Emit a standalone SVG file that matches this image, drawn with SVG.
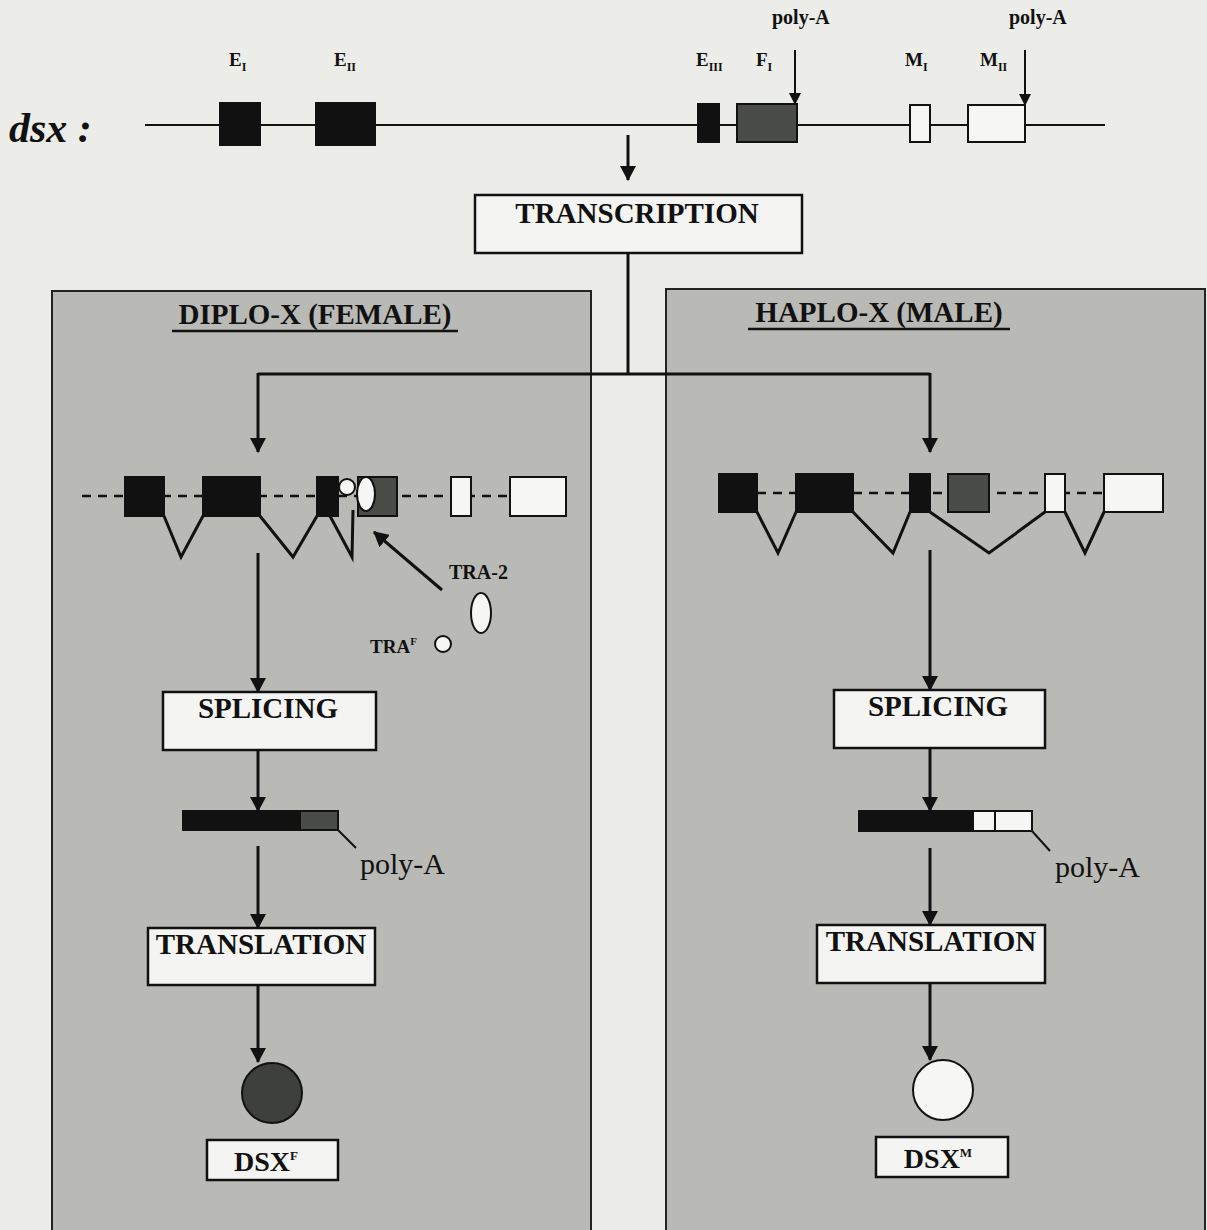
<svg xmlns="http://www.w3.org/2000/svg" width="1207" height="1230" viewBox="0 0 1207 1230">
<style>
.t{font-family:"Liberation Serif","Times New Roman",serif;font-weight:bold;fill:#111}
.big{font-size:29px}
.lab{font-size:19px}
.sub{font-size:12px}
.box{fill:#f4f4f2;stroke:#111;stroke-width:2.5}
.panel{fill:#b9b9b5;stroke:#222;stroke-width:2}
.blk{fill:#111;stroke:#111;stroke-width:2}
.gry{fill:#4a4c48;stroke:#111;stroke-width:2}
.wht{fill:#f6f6f4;stroke:#111;stroke-width:2}
.ln{stroke:#111;stroke-width:3;fill:none}
.thin{stroke:#111;stroke-width:2;fill:none}
.dash{stroke:#111;stroke-width:2.5;stroke-dasharray:9 7;fill:none}
.reg{font-family:"Liberation Serif","Times New Roman",serif;fill:#111;font-size:30px}
</style>
<defs>
<marker id="ah" markerUnits="userSpaceOnUse" markerWidth="16" markerHeight="16" refX="14" refY="8" orient="auto">
<path d="M0,0 L15,8 L0,16 Z" fill="#111"/>
</marker>
<marker id="ahs" markerUnits="userSpaceOnUse" markerWidth="12" markerHeight="12" refX="11" refY="6" orient="auto">
<path d="M0,0 L12,6 L0,12 Z" fill="#111"/>
</marker>
</defs>
<rect width="1207" height="1230" fill="#ecece8"/>

<g id="gene">
<text class="t" x="9" y="142" font-size="42" font-style="italic">dsx :</text>
<line x1="145" y1="125" x2="1105" y2="125" class="thin" stroke-width="2.5"/>
<rect x="220" y="103" width="40" height="42" class="blk"/>
<rect x="316" y="103" width="59" height="42" class="blk"/>
<rect x="698" y="104" width="21" height="38" class="blk"/>
<rect x="737" y="104" width="60" height="38" class="gry"/>
<rect x="910" y="105" width="20" height="37" class="wht"/>
<rect x="968" y="105" width="57" height="37" class="wht"/>
<text class="t lab" x="229" y="66">E<tspan class="sub" dy="5">I</tspan></text>
<text class="t lab" x="334" y="66">E<tspan class="sub" dy="5">II</tspan></text>
<text class="t lab" x="696" y="66">E<tspan class="sub" dy="5">III</tspan></text>
<text class="t lab" x="756" y="66">F<tspan class="sub" dy="5">I</tspan></text>
<text class="t lab" x="905" y="66">M<tspan class="sub" dy="5">I</tspan></text>
<text class="t lab" x="980" y="66">M<tspan class="sub" dy="5">II</tspan></text>
<text class="t" x="772" y="24" font-size="20">poly-A</text>
<text class="t" x="1009" y="24" font-size="20">poly-A</text>
</g>

<g id="transcription">
<rect x="475" y="195" width="327" height="58" class="box"/>
<text class="t big" x="637" y="223" text-anchor="middle">TRANSCRIPTION</text>
</g>

<g id="female-panel">
<rect x="52" y="291" width="539" height="945" class="panel"/>
<text class="t big" x="315" y="324" text-anchor="middle">DIPLO-X (FEMALE)</text>
<line x1="172" y1="331" x2="458" y2="331" stroke="#111" stroke-width="2.5"/>
</g>
<g id="male-panel">
<rect x="666" y="289" width="539" height="947" class="panel"/>
<text class="t big" x="879" y="322" text-anchor="middle">HAPLO-X (MALE)</text>
<line x1="748" y1="329" x2="1010" y2="329" stroke="#111" stroke-width="2.5"/>
</g>

<g id="female-premrna">
<line x1="82" y1="496" x2="560" y2="496" class="dash"/>
<rect x="125" y="477" width="39" height="39" class="blk"/>
<rect x="203" y="477" width="57" height="39" class="blk"/>
<rect x="317" y="477" width="21" height="39" class="blk"/>
<rect x="358" y="477" width="39" height="39" class="gry"/>
<rect x="451" y="477" width="20" height="39" class="wht"/>
<rect x="510" y="477" width="56" height="39" class="wht"/>
<circle cx="347" cy="487" r="8" class="wht"/>
<ellipse cx="366" cy="494" rx="9" ry="17" class="wht"/>
<polyline points="164,516 181,557 203,516" class="ln"/>
<polyline points="260,516 293,557 317,516" class="ln"/>
<polyline points="330,516 352,557 353,510" class="ln"/>
</g>

<g id="tra">
<text class="t" x="449" y="579" font-size="20">TRA-2</text>
<ellipse cx="481" cy="613" rx="10" ry="20" class="wht"/>
<text class="t" x="370" y="653" font-size="19">TRA<tspan font-size="11" dy="-8">F</tspan></text>
<circle cx="443" cy="644" r="8" class="wht"/>
</g>

<g id="male-premrna">
<line x1="757" y1="493" x2="1104" y2="493" class="dash"/>
<rect x="719" y="474" width="38" height="38" class="blk"/>
<rect x="796" y="474" width="57" height="38" class="blk"/>
<rect x="910" y="474" width="20" height="38" class="blk"/>
<rect x="948" y="474" width="41" height="38" class="gry"/>
<rect x="1045" y="474" width="20" height="38" class="wht"/>
<rect x="1104" y="474" width="59" height="38" class="wht"/>
<polyline points="757,512 778,553 796,512" class="ln"/>
<polyline points="853,512 893,553 910,512" class="ln"/>
<polyline points="930,512 989,553 1045,512" class="ln"/>
<polyline points="1065,512 1085,553 1104,512" class="ln"/>
</g>

<g id="female-splicing">
<rect x="163" y="692" width="213" height="58" class="box"/>
<text class="t big" x="268" y="718" text-anchor="middle">SPLICING</text>
</g>
<g id="male-splicing">
<rect x="834" y="690" width="211" height="58" class="box"/>
<text class="t big" x="938" y="716" text-anchor="middle">SPLICING</text>
</g>

<g id="female-mrna">
<rect x="183" y="811" width="40" height="19" class="blk" stroke="#555" stroke-width="1"/>
<rect x="223" y="811" width="56" height="19" class="blk" stroke="#555" stroke-width="1"/>
<rect x="279" y="811" width="21" height="19" class="blk" stroke="#555" stroke-width="1"/>
<rect x="300" y="811" width="38" height="19" class="gry" stroke-width="1.5"/>
<line x1="338" y1="830" x2="356" y2="848" class="thin"/>
<text class="reg" x="360" y="874">poly-A</text>
</g>
<g id="male-mrna">
<rect x="859" y="811" width="40" height="20" class="blk"/>
<rect x="899" y="811" width="56" height="20" class="blk"/>
<rect x="955" y="811" width="18" height="20" class="blk"/>
<rect x="973" y="811" width="22" height="20" class="wht"/>
<rect x="995" y="811" width="37" height="20" class="wht"/>
<line x1="1032" y1="831" x2="1050" y2="851" class="thin"/>
<text class="reg" x="1055" y="877">poly-A</text>
</g>

<g id="female-translation">
<rect x="148" y="928" width="227" height="57" class="box"/>
<text class="t big" x="261" y="954" text-anchor="middle">TRANSLATION</text>
</g>
<g id="male-translation">
<rect x="817" y="925" width="228" height="58" class="box"/>
<text class="t big" x="931" y="951" text-anchor="middle">TRANSLATION</text>
</g>

<g id="female-protein">
<circle cx="272" cy="1093" r="30" fill="#3e403c" stroke="#111" stroke-width="2"/>
<rect x="207" y="1140" width="131" height="40" class="box"/>
<text class="t" x="266" y="1171" font-size="28" text-anchor="middle">DSX<tspan font-size="13" dy="-11">F</tspan></text>
</g>
<g id="male-protein">
<circle cx="943" cy="1090" r="30" class="wht"/>
<rect x="876" y="1137" width="132" height="40" class="box"/>
<text class="t" x="938" y="1168" font-size="28" text-anchor="middle">DSX<tspan font-size="13" dy="-11">M</tspan></text>
</g>

<g id="connectors">
<line x1="795" y1="50" x2="795" y2="104" class="thin" marker-end="url(#ahs)"/>
<line x1="1025" y1="50" x2="1025" y2="105" class="thin" marker-end="url(#ahs)"/>
<line x1="628" y1="135" x2="628" y2="180" class="ln" marker-end="url(#ah)"/>
<polyline points="628,253 628,374" class="ln"/>
<polyline points="258,374 930,374" class="ln"/>
<line x1="258" y1="373" x2="258" y2="452" class="ln" marker-end="url(#ah)"/>
<line x1="930" y1="373" x2="930" y2="452" class="ln" marker-end="url(#ah)"/>
<line x1="442" y1="590" x2="374" y2="532" class="ln" marker-end="url(#ah)"/>
<line x1="258" y1="553" x2="258" y2="692" class="ln" marker-end="url(#ah)"/>
<line x1="258" y1="750" x2="258" y2="811" class="ln" marker-end="url(#ah)"/>
<line x1="258" y1="846" x2="258" y2="928" class="ln" marker-end="url(#ah)"/>
<line x1="258" y1="985" x2="258" y2="1062" class="ln" marker-end="url(#ah)"/>
<line x1="930" y1="550" x2="930" y2="690" class="ln" marker-end="url(#ah)"/>
<line x1="930" y1="748" x2="930" y2="811" class="ln" marker-end="url(#ah)"/>
<line x1="930" y1="848" x2="930" y2="925" class="ln" marker-end="url(#ah)"/>
<line x1="930" y1="983" x2="930" y2="1060" class="ln" marker-end="url(#ah)"/>
</g>
</svg>
